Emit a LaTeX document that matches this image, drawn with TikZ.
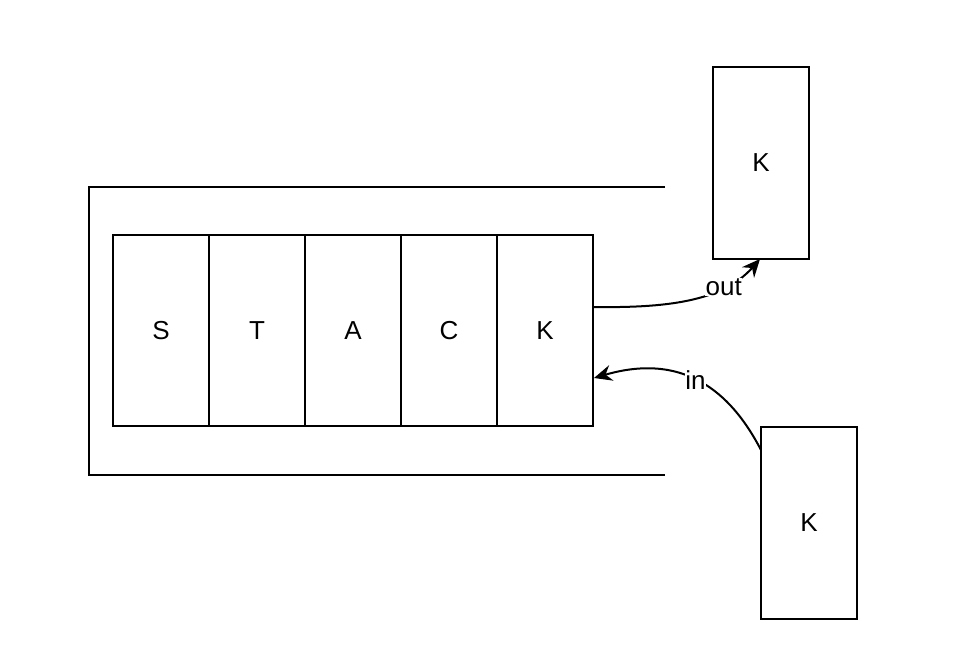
\documentclass[tikz,border=0pt]{standalone}
\usepackage{fontspec}
\setmainfont{Liberation Sans}
\usetikzlibrary{arrows.meta}
\begin{document}
\begin{tikzpicture}[x=1pt,y=-1pt,
  lw/.style={line width=2pt},
  cell/.style={draw,lw,minimum width=96pt,minimum height=191pt,inner sep=0pt,font=\fontsize{26}{30}\selectfont,anchor=north west},
  lbl/.style={fill=white,inner sep=0.5pt,font=\fontsize{26}{30}\selectfont},
  arr/.style={lw,-{Stealth[length=18pt,width=16pt,inset=6pt]}}]
\useasboundingbox (0,0) rectangle (956,664);
\node[cell] (s) at (112,234) {S};
\node[cell] (t) at (208,234) {T};
\node[cell] (a) at (304,234) {A};
\node[cell] (c) at (400,234) {C};
\node[cell] (k) at (496,234) {K};
\node[cell,minimum height=192pt] (kout) at (712,66) {K};
\node[cell,minimum height=192pt] (kin) at (760,426) {K};
\coordinate (tr) at (665,187);
\coordinate (tl) at (89,187);
\coordinate (bl) at (89,475);
\coordinate (br) at (665,475);
\draw[lw] (tr) -- (tl) -- (bl) -- (br);
\coordinate (outs) at (593,307);
\coordinate (oute) at (760,259);
\draw[arr] (outs) .. controls (665,308) and (722,302) .. node[lbl,pos=0.72] {out} (oute);
\coordinate (ins) at (761,450);
\coordinate (ine) at (594,378);
\draw[arr] (ins) .. controls (735,400) and (690,350) .. node[lbl,pos=0.55] {in} (ine);
\end{tikzpicture}
\end{document}
